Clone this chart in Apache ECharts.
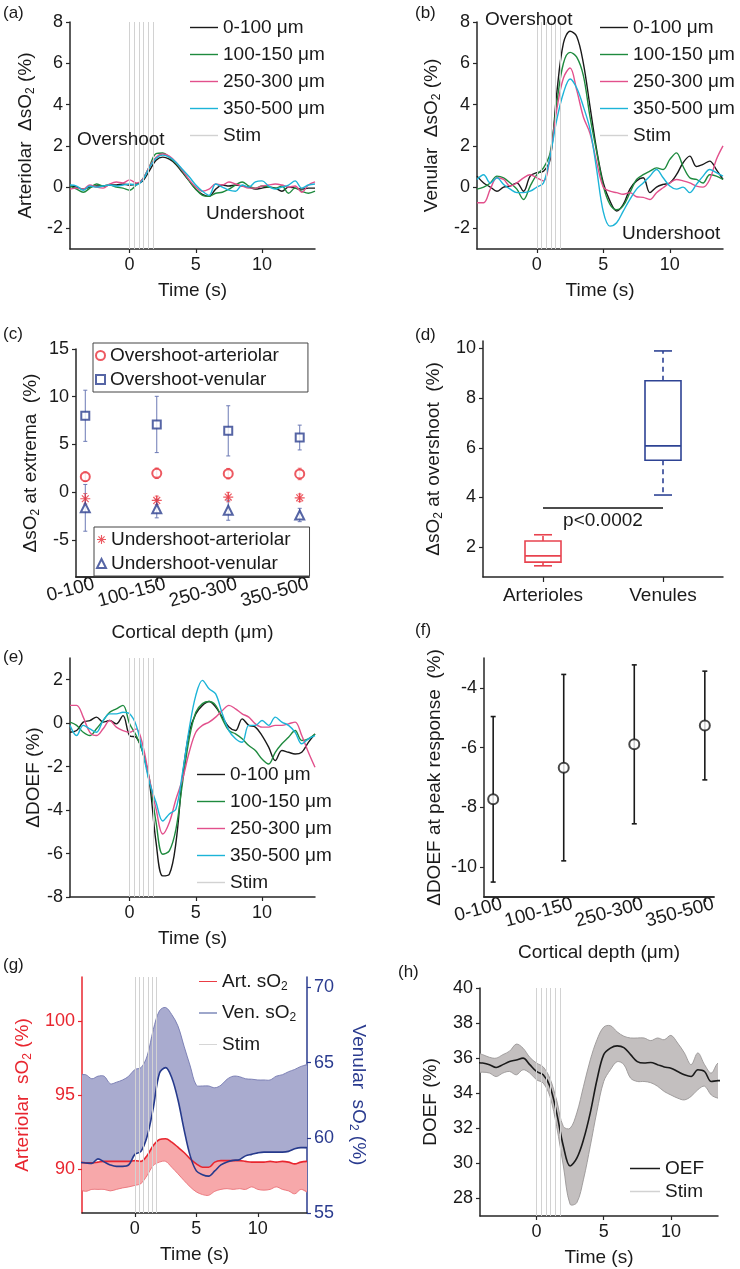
<!DOCTYPE html>
<html><head><meta charset="utf-8">
<script src="https://cdn.jsdelivr.net/npm/echarts@6/dist/echarts.min.js"></script>
<style>html,body{margin:0;padding:0;background:#fff}#c{width:740px;height:1269px}</style>
</head><body><div id="c"></div>
<script>
// ---------- DATA ----------
const time = [-4.5,-4,-3.5,-3,-2.5,-2,-1.5,-1,-0.5,0,0.5,1,1.5,2,2.5,3,3.5,4,4.5,5,5.5,6,6.5,7,7.5,8,8.5,9,9.5,10,10.5,11,11.5,12,12.5,13,13.5,14];
const stimTimes = [0, 0.35, 0.7, 1.05, 1.4, 1.75];
const depthLabels = ['0-100 μm','100-150 μm','250-300 μm','350-500 μm'];
const depthCats = ['0-100','100-150','250-300','350-500'];
const timeTicks = [0, 5, 10];

// (a) arteriolar ΔsO2
const art0_100   = [0.05,0.0,-0.1,0.0,0.05,0.05,0.1,0.1,0.15,0.1, 0.15,0.3,0.8,1.3,1.45,1.35,1.1,0.7,0.3,-0.1, -0.35,-0.45,-0.1,0.1,0.05,0.1,0.05,0.0,-0.1,-0.05, 0.0,-0.05,-0.2,0.0,-0.05,-0.1,-0.05,-0.05];
const art100_150 = [0.05,-0.1,-0.25,-0.05,0.15,0.05,0.1,0.0,-0.05,-0.15, 0.1,0.4,1.0,1.62,1.65,1.45,1.15,0.75,0.3,-0.1, -0.4,-0.45,-0.3,-0.25,-0.1,0.1,0.25,0.05,-0.05,0.05, 0.0,-0.05,0.05,-0.3,-0.05,-0.2,-0.3,-0.2];
const art250_300 = [-0.1,-0.05,-0.1,0.1,0.0,-0.05,0.15,0.25,0.2,0.35, 0.2,0.4,1.0,1.45,1.6,1.5,1.2,0.8,0.35,0.0, -0.2,-0.1,0.15,0.1,0.25,0.15,0.05,-0.05,-0.05,0.05, 0.1,0.15,0.1,0.0,0.05,-0.25,0.1,0.25];
const art350_500 = [0.1,0.05,-0.15,0.05,0.0,0.05,0.1,0.05,0.1,0.15, 0.1,0.35,0.95,1.4,1.55,1.45,1.2,0.85,0.5,0.1, -0.2,-0.4,0.15,0.0,-0.15,-0.2,0.1,0.0,0.25,0.3, 0.05,-0.1,0.0,0.1,0.3,-0.05,0.1,0.15];
const artTicks = [-2, 0, 2, 4, 6, 8];

// (b) venular ΔsO2
const ven0_100   = [0.53,0.2,0.0,-0.2,0.0,0.05,0.2,-0.2,0.53,0.7, 0.77,1.34,4.56,6.98,7.55,7.3,6.0,3.9,1.8,0.2, -0.68,-1.16,-0.84,-0.1,0.3,0.45,-0.27,0.0,0.13,0.2, 0.6,1.18,1.5,1.0,1.1,1.26,0.85,0.37];
const ven100_150 = [-0.1,0.0,0.2,0.53,0.45,0.2,-0.1,-0.6,0.05,0.6, 0.93,1.66,4.08,6.0,6.53,6.3,5.4,3.4,1.7,0.05, -0.84,-1.1,-0.9,-0.27,0.37,0.6,0.77,0.93,0.85,1.34, 1.66,1.0,0.45,0.37,0.2,0.6,0.53,0.37];
const ven250_300 = [-0.76,-0.76,-0.1,0.45,0.37,0.05,0.2,0.45,0.6,0.45, 0.3,1.5,3.76,5.29,5.77,4.7,3.4,2.6,1.2,0.0, -0.2,-0.27,-0.35,-0.27,-0.47,-0.5,-0.6,-0.27,-0.03,0.2, 0.37,0.3,0.2,0.05,0.0,0.37,1.34,2.0];
const ven350_500 = [0.37,0.6,0.2,0.45,0.13,-0.1,-0.27,-0.27,-0.2,0.0, 0.2,1.5,3.27,4.56,5.24,4.8,3.9,2.8,0.85,-1.2, -1.89,-1.73,-1.16,-0.6,-0.1,0.2,0.53,0.85,0.45,0.05, -0.1,0.0,-0.27,0.13,0.53,0.85,0.7,0.53];

// (c) extrema
const overArt = [1.62, 1.97, 1.93, 1.9];      const overArtErr = [0.5, 0.55, 0.55, 0.6];
const overVen = [8.0, 7.09, 6.42, 5.72];      const overVenErr = [2.68, 2.95, 2.63, 1.3];
const underArt = [-0.7, -0.87, -0.52, -0.6];  const underArtErr = [0.55, 0.45, 0.5, 0.4];
const underVen = [-1.65, -1.75, -1.9, -2.4];  const underVenErr = [2.45, 0.95, 1.05, 0.7];
const extremaTicks = [-5, 0, 5, 10, 15];

// (d) box plot [min, Q1, median, Q3, max]
const boxCats = ['Arterioles', 'Venules'];
const boxArterioles = [1.25, 1.4, 1.65, 2.25, 2.5];
const boxVenules = [4.1, 5.5, 6.08, 8.7, 9.9];
const sigLevel = 3.6;
const sigText = 'p<0.0002';
const boxTicks = [2, 4, 6, 8, 10];

// (e) ΔDOEF
const doef0_100   = [-0.42,-0.34,0.05,0.12,0.28,0.05,0.12,-0.03,0.35,-0.57, -0.65,-1.34,-2.72,-5.5,-7.03,-6.95,-5.5,-2.42,-0.42,0.43, 0.82,1.0,0.74,0.28,-0.18,-0.34,0.2,-0.1,-0.18,-0.57, -1.1,-1.72,-1.26,-1.34,-1.42,-1.34,-0.88,-0.5];
const doef100_150 = [0.05,-0.1,-0.42,-0.57,-0.26,0.12,0.5,0.66,0.82,-0.03, -0.57,-1.34,-2.57,-4.57,-6.03,-5.88,-4.88,-2.72,-0.72,0.5, 0.9,1.0,0.82,0.2,-0.34,-0.49,-0.72,-1.03,-1.26,-1.65, -1.88,-1.34,-0.95,-0.65,-0.34,-0.8,-0.72,-0.5];
const doef250_300 = [0.82,0.82,0.28,-0.42,-0.57,-0.26,0.12,-0.18,-0.34,-0.42, -0.26,-1.03,-2.57,-3.95,-5.1,-4.57,-3.5,-2.57,-1.34,-0.42, -0.1,0.05,0.28,0.58,0.82,0.66,0.43,0.28,-0.03,-0.18, -0.18,-0.1,-0.1,-0.03,0.05,-0.57,-1.34,-2.03];
const doef350_500 = [-0.1,-0.57,-0.1,-0.26,-0.42,0.12,0.43,0.43,0.5,0.43, -0.1,-1.34,-2.72,-3.65,-4.5,-4.18,-3.95,-2.26,-0.26,1.28, 1.97,1.58,1.35,0.43,-0.34,-0.72,-0.88,-0.1,-0.1,0.12, -0.1,0.28,0.05,-0.1,-0.42,-0.95,-0.72,-0.57];
const doefTicks = [-8, -6, -4, -2, 0, 2];

// (f) ΔDOEF at peak
const peakMean = [-7.73, -6.67, -5.89, -5.26];
const peakErr = [2.77, 3.12, 2.66, 1.82];
const peakTicks = [-10, -8, -6, -4];

// (g) absolute sO2
const artSO2Mean = [90.45,90.4,90.4,90.45,90.5,90.5,90.5,90.5,90.5,90.55, 90.5,90.9,91.57,91.98,92.03,91.8,91.46,91.1,90.67,90.33, 90.1,90.1,90.45,90.55,90.55,90.55,90.55,90.5,90.45,90.45, 90.45,90.5,90.45,90.5,90.45,90.33,90.45,90.5];
const artSO2Low  = [88.6,88.47,88.6,88.6,88.6,88.5,88.6,88.7,88.77,88.87, 89.0,89.55,90.22,90.45,90.5,90.1,89.66,89.2,88.77,88.43, 88.25,88.2,88.47,88.6,88.65,88.6,88.65,88.6,88.77,88.6, 88.55,88.6,88.77,88.6,88.5,88.3,88.6,88.43];
const venSO2Mean = [58.37,58.33,58.3,58.6,58.4,58.2,58.1,58.1,58.2,58.9, 59.1,60.1,62.0,64.3,64.67,64.0,62.55,60.55,58.8,57.8, 57.55,57.45,57.8,58.2,58.4,58.5,58.55,58.8,58.9,59.0, 59.05,59.05,59.05,59.05,59.1,59.27,59.35,59.35];
const venSO2Up   = [64.17,64.2,63.93,64.1,64.1,63.6,63.7,63.85,64.1,64.55, 64.67,65.45,67.2,68.45,68.67,68.2,67.45,66.1,64.78,63.5, 63.45,63.45,63.33,63.5,63.9,64.1,64.07,63.93,63.9,63.85, 63.85,63.85,64.1,64.2,64.4,64.55,64.75,64.85];
const artAxisTicks = [90, 95, 100];
const venAxisTicks = [55, 60, 65, 70];

// (h) DOEF
const oefMean = [35.75,35.72,35.63,35.47,35.63,35.81,35.9,36.0,35.63,35.24, 35.05,34.4,32.88,30.98,29.85,30.3,31.36,32.88,34.77,36.2, 36.57,36.7,36.6,36.2,35.8,35.72,35.75,35.63,35.5,35.43, 35.24,35.05,34.95,35.34,35.24,34.67,34.72,34.7];
const oefUp   = [36.3,36.2,36.05,36.0,36.2,36.4,36.8,36.57,36.05,35.72, 35.5,34.85,33.6,32.1,32.0,32.88,34.4,35.9,37.05,37.77, 37.85,37.5,37.25,37.15,37.15,37.15,37.0,37.15,37.05,37.3, 36.86,36.3,35.63,36.3,35.63,35.15,35.72,35.7];
const oefLow  = [35.15,35.2,35.15,34.95,35.15,35.24,35.05,35.34,35.15,34.77, 34.58,33.82,32.1,29.85,27.67,27.76,29.1,30.98,32.98,34.67, 35.34,35.8,35.63,34.86,34.67,34.67,34.6,34.4,34.1,33.9, 33.72,33.62,33.82,34.2,34.4,33.9,33.72,33.7];
const oefTicks = [28, 30, 32, 34, 36, 38, 40];

// ---------- STYLE ----------
const FONT = 'Liberation Sans, Arial, sans-serif';
const TXT = '#1a1a1a';
const AX = '#262626';
const depthColors = ['#1a1a1a', '#1e8a3e', '#e2508c', '#1cb4d8'];
const STIM = '#d2d2d2';
const RED = '#e8303a', BLUE = '#2c3e8f';
const ART_RED = '#e8262f', VEN_BLUE = '#263a8c';
const SMOOTH = 0.35;

function richSub(color) {
  return {
    n: {fontSize: 19, color, lineHeight: 22, fontFamily: FONT},
    s: {fontSize: 12, color, lineHeight: 12, verticalAlign: 'bottom', fontFamily: FONT}
  };
}
function valAxis(gi, min, max, ticks, opts) {
  opts = opts || {};
  const col = opts.color || AX;
  const lab = opts.labelColor || TXT;
  return Object.assign({
    type: 'value', gridIndex: gi, min, max, scale: true,
    axisLine: {show: true, onZero: false, lineStyle: {color: col, width: 1.5}},
    axisTick: {show: true, inside: false, length: 4, customValues: ticks, lineStyle: {color: col, width: 1.2}},
    axisLabel: {customValues: ticks, fontSize: 18, color: lab, margin: 7, fontFamily: FONT, showMinLabel: true, showMaxLabel: true},
    splitLine: {show: false},
    nameTextStyle: {fontSize: 19, color: lab, fontFamily: FONT}
  }, opts.extra || {});
}
function timeX(gi, min, max) {
  return valAxis(gi, min, max, timeTicks, {extra: {name: 'Time (s)', nameLocation: 'middle', nameGap: 32}});
}
// depth axis: labels split over two overlaid axes so that rotated neighbours are never auto-hidden
function depthX(gi, which) {
  const vals = which === 0 ? [1, 3] : [2, 4];
  const extra = which === 0 ? {name: 'Cortical depth (μm)', nameLocation: 'middle', nameGap: 46} : {};
  const a = valAxis(gi, 0.87, 4.13, vals, {extra});
  a.axisLabel.rotate = 15;
  a.axisLabel.fontSize = 19;
  a.axisLabel.margin = 9;
  a.axisLabel.padding = [0, -9, 0, 0];
  a.axisLabel.hideOverlap = false;
  a.axisLabel.formatter = v => depthCats[Math.round(v) - 1];
  a.axisTick.length = 5;
  a.position = 'bottom';
  a.offset = 0;
  return a;
}
function yName(name, gap, rich, color, rotate) {
  const o = {name, nameLocation: 'middle', nameGap: gap, nameRotate: rotate == null ? 90 : rotate};
  o.nameTextStyle = rich ? {rich: richSub(color || TXT)} : {fontSize: 19, color: color || TXT, fontFamily: FONT};
  return o;
}
const pts = arr => time.map((t, i) => [t, arr[i]]);
function lineS(name, xi, yi, arr, color, width) {
  return {type: 'line', name, xAxisIndex: xi, yAxisIndex: yi, data: pts(arr), symbol: 'none', showSymbol: false,
    smooth: SMOOTH, lineStyle: {color, width: width || 1.4}, itemStyle: {color}, z: 3};
}
function stimS(xi, yi) {
  return {type: 'line', name: 'Stim', xAxisIndex: xi, yAxisIndex: yi, data: [], symbol: 'none',
    lineStyle: {color: STIM, width: 1.2}, itemStyle: {color: STIM}, z: 1,
    markLine: {silent: true, symbol: ['none', 'none'], label: {show: false},
      lineStyle: {color: STIM, width: 1, type: 'solid'}, emphasis: {disabled: true},
      data: stimTimes.map(t => ({xAxis: t}))}};
}
// shaded band between two data arrays (drawn through the axes' coord())
function bandS(xi, yi, low, up, fill, edgeLow, edgeUp) {
  return {type: 'custom', xAxisIndex: xi, yAxisIndex: yi, z: 2, silent: true, clip: true,
    data: time.map((t, i) => [t, low[i], up[i]]), encode: {x: 0, y: [1, 2]},
    renderItem: function (params, api) {
      if (params.dataIndex !== 0) return null;
      const top = time.map((t, i) => api.coord([t, up[i]]));
      const bot = time.map((t, i) => api.coord([t, low[i]]));
      const kids = [{type: 'polygon', shape: {points: top.concat(bot.slice().reverse()), smooth: SMOOTH},
        style: {fill, stroke: null}}];
      if (edgeUp) kids.push({type: 'polyline', shape: {points: top, smooth: SMOOTH}, style: {stroke: edgeUp, lineWidth: 0.9, fill: null}});
      if (edgeLow) kids.push({type: 'polyline', shape: {points: bot, smooth: SMOOTH}, style: {stroke: edgeLow, lineWidth: 0.9, fill: null}});
      return {type: 'group', children: kids};
    }};
}
function errRender(cap, color, width) {
  return function (params, api) {
    const x = api.value(0), m = api.value(1), e = api.value(2);
    const t = api.coord([x, m + e]), b = api.coord([x, m - e]);
    const st = {stroke: color, lineWidth: width};
    return {type: 'group', children: [
      {type: 'line', shape: {x1: t[0], y1: t[1], x2: b[0], y2: b[1]}, style: st},
      {type: 'line', shape: {x1: t[0] - cap, y1: t[1], x2: t[0] + cap, y2: t[1]}, style: st},
      {type: 'line', shape: {x1: b[0] - cap, y1: b[1], x2: b[0] + cap, y2: b[1]}, style: st}
    ]};
  };
}
function errS(xi, yi, mean, err, cap, color, width) {
  return {type: 'custom', xAxisIndex: xi, yAxisIndex: yi, z: 2, silent: true,
    data: mean.map((m, i) => [i + 1, m, err[i]]), encode: {x: 0, y: 1},
    renderItem: errRender(cap, color, width)};
}
function scatS(name, xi, yi, mean, symbol, size, color, bw) {
  return {type: 'scatter', name, xAxisIndex: xi, yAxisIndex: yi, z: 4,
    data: mean.map((m, i) => [i + 1, m]), symbol, symbolSize: size, symbolKeepAspect: true,
    itemStyle: {color, borderColor: color, borderWidth: bw == null ? 1.2 : bw}};
}
const ASTERISK = 'path://M8.8 0H11.2V20H8.8Z M0 8.8H20V11.2H0Z M2.3 4.0L4.0 2.3L17.7 16.0L16.0 17.7Z M16.0 2.3L17.7 4.0L4.0 17.7L2.3 16.0Z';
const LINEICON = 'path://M0 0H40V2H0Z';
const boxStats = [boxArterioles, boxVenules];
const boxColors = ['#e8434f', '#2e4394'];

// ---------- OPTION ----------
const grids = [
  {left: 70, top: 22, width: 245, height: 227},
  {left: 477, top: 22, width: 246, height: 227},
  {left: 76, top: 349, width: 233, height: 228},
  {left: 483, top: 341, width: 240, height: 236},
  {left: 70, top: 658, width: 245, height: 239},
  {left: 484, top: 658, width: 230, height: 239},
  {left: 82, top: 977, width: 225, height: 236},
  {left: 480, top: 988, width: 238, height: 228}
].map(g => Object.assign({outerBoundsMode: 'none', containLabel: false}, g));

const xAxes = [
  timeX(0, -4.5, 14),
  timeX(1, -4.5, 14),
  depthX(2, 0),
  {type: 'category', gridIndex: 3, data: boxCats, boundaryGap: true,
    axisLine: {show: true, onZero: false, lineStyle: {color: AX, width: 1.5}},
    axisTick: {show: true, alignWithLabel: true, length: 5, lineStyle: {color: AX, width: 1.2}},
    axisLabel: {fontSize: 19, color: TXT, margin: 9, fontFamily: FONT}, splitLine: {show: false}},
  timeX(4, -4.5, 14),
  depthX(5, 0),
  timeX(6, -4.3, 14),
  timeX(7, -4.2, 13.5),
  depthX(2, 1),
  depthX(5, 1)
];
const yAxes = [
  valAxis(0, -3, 8, artTicks, {extra: yName('{n|Arteriolar  ΔsO}{s|2}{n| (%)}', 33, true)}),
  valAxis(1, -3, 8, artTicks, {extra: yName('{n|Venular  ΔsO}{s|2}{n| (%)}', 34, true)}),
  valAxis(2, -8.9, 15, extremaTicks, {extra: yName('{n|ΔsO}{s|2}{n| at extrema  (%)}', 34, true)}),
  valAxis(3, 0.8, 10.3, boxTicks, {extra: yName('{n|ΔsO}{s|2}{n| at overshoot  (%)}', 38, true)}),
  valAxis(4, -8, 3, doefTicks, {extra: yName('ΔDOEF (%)', 27)}),
  valAxis(5, -11, -3, peakTicks, {extra: yName('ΔDOEF at peak response  (%)', 40)}),
  valAxis(6, 87, 103, artAxisTicks, {color: ART_RED, labelColor: ART_RED,
    extra: yName('{n|Arteriolar  sO}{s|2}{n| (%)}', 48, true, ART_RED)}),
  valAxis(6, 55, 70.7, venAxisTicks, {color: '#2a3b8f', labelColor: '#2a3b8f',
    extra: Object.assign({position: 'right'}, yName('{n|Venular  sO}{s|2}{n| (%)}', 40, true, '#2a3b8f', -90))}),
  valAxis(7, 27, 40, oefTicks, {extra: yName('DOEF (%)', 40)})
];

const series = [];
// (a)
series.push(stimS(0, 0));
[art0_100, art100_150, art250_300, art350_500].forEach((a, k) => series.push(lineS(depthLabels[k], 0, 0, a, depthColors[k])));
// (b)
series.push(stimS(1, 1));
[ven0_100, ven100_150, ven250_300, ven350_500].forEach((a, k) => series.push(lineS(depthLabels[k], 1, 1, a, depthColors[k])));
// (c)
series.push(errS(2, 2, overVen, overVenErr, 2, '#6c7ab5', 1));
series.push(errS(2, 2, overArt, overArtErr, 2, '#ee6a72', 1));
series.push(errS(2, 2, underArt, underArtErr, 2, '#ee6a72', 1));
series.push(errS(2, 2, underVen, underVenErr, 2, '#6c7ab5', 1));
series.push(scatS('Overshoot-arteriolar', 2, 2, overArt, 'emptyCircle', 9, RED));
series.push(scatS('Overshoot-venular', 2, 2, overVen, 'emptyRect', 8, BLUE));
series.push(scatS('Undershoot-arteriolar', 2, 2, underArt, ASTERISK, 10, RED, 0));
series.push(scatS('Undershoot-venular', 2, 2, underVen, 'emptyTriangle', 9, BLUE));
// (d)
series.push({type: 'custom', xAxisIndex: 3, yAxisIndex: 3, z: 3, silent: true,
  data: boxCats.map((c, i) => [i].concat(boxStats[i])), encode: {x: 0, y: [1, 2, 3, 4, 5]},
  renderItem: function (params, api) {
    const i = api.value(0);
    const v = [1, 2, 3, 4, 5].map(k => api.value(k));
    const cx = api.coord([i, v[2]])[0];
    const y = val => api.coord([i, val])[1];
    const col = boxColors[params.dataIndex];
    const hw = 18, cw = 9;
    const st = {stroke: col, lineWidth: 1.6, fill: null};
    const ds = {stroke: col, lineWidth: 1.6, lineDash: [5, 4]};
    return {type: 'group', children: [
      {type: 'line', shape: {x1: cx, y1: y(v[3]), x2: cx, y2: y(v[4])}, style: ds},
      {type: 'line', shape: {x1: cx, y1: y(v[1]), x2: cx, y2: y(v[0])}, style: ds},
      {type: 'line', shape: {x1: cx - cw, y1: y(v[4]), x2: cx + cw, y2: y(v[4])}, style: st},
      {type: 'line', shape: {x1: cx - cw, y1: y(v[0]), x2: cx + cw, y2: y(v[0])}, style: st},
      {type: 'rect', shape: {x: cx - hw, y: y(v[3]), width: 2 * hw, height: y(v[1]) - y(v[3])}, style: {stroke: col, lineWidth: 1.6, fill: '#fff'}},
      {type: 'line', shape: {x1: cx - hw, y1: y(v[2]), x2: cx + hw, y2: y(v[2])}, style: st}
    ]};
  }});
series.push({type: 'line', xAxisIndex: 3, yAxisIndex: 3, data: [], symbol: 'none',
  markLine: {silent: true, symbol: ['none', 'none'],
    lineStyle: {color: '#111', width: 1.5, type: 'solid'},
    label: {show: true, position: 'insideMiddleBottom', formatter: sigText, fontSize: 19, color: TXT, fontFamily: FONT, distance: 4},
    data: [[{coord: [boxCats[0], sigLevel]}, {coord: [boxCats[1], sigLevel]}]]}});
// (e)
series.push(stimS(4, 4));
[doef0_100, doef100_150, doef250_300, doef350_500].forEach((a, k) => series.push(lineS(depthLabels[k], 4, 4, a, depthColors[k])));
// (f)
series.push(errS(5, 5, peakMean, peakErr, 2.5, '#1a1a1a', 1.6));
series.push(scatS('peak', 5, 5, peakMean, 'emptyCircle', 10, '#1a1a1a'));
// (g)
series.push(stimS(6, 6));
series.push(bandS(6, 7, venSO2Mean, venSO2Up, '#a9abcf', null, '#7478b0'));
series.push(bandS(6, 6, artSO2Low, artSO2Mean, '#f7a8aa', '#ea7278', null));
series.push(lineS('Art. sO2', 6, 6, artSO2Mean, ART_RED, 1.6));
series.push(lineS('Ven. sO2', 6, 7, venSO2Mean, VEN_BLUE, 1.6));
// (h)
series.push(stimS(7, 8));
series.push(bandS(7, 8, oefLow, oefUp, '#c3bfbf', '#9a9696', '#9a9696'));
series.push(lineS('OEF', 7, 8, oefMean, '#1a1a1a', 1.6));

const legItem = (name, color) => ({name, itemStyle: {color}});
const depthLegend = depthLabels.map((n, k) => legItem(n, depthColors[k])).concat([legItem('Stim', STIM)]);
const legBase = {orient: 'vertical', selectedMode: false, itemWidth: 28, itemHeight: 2, itemGap: 8, padding: 0,
  icon: LINEICON, textStyle: {fontSize: 19, lineHeight: 19, color: TXT, fontFamily: FONT}};
const subFmt = n => /sO2$/.test(n) ? '{t|' + n.slice(0, -1) + '}{s|2}' : '{t|' + n + '}';
const legends = [
  Object.assign({}, legBase, {left: 190, top: 18, data: depthLegend}),
  Object.assign({}, legBase, {left: 600, top: 18, data: depthLegend}),
  Object.assign({}, legBase, {left: 197, top: 765, data: depthLegend}),
  {orient: 'vertical', selectedMode: false, left: 93, top: 343, itemWidth: 9, itemHeight: 9, itemGap: 5,
    padding: [3, 29, 3, 2], borderColor: '#444', borderWidth: 1,
    textStyle: {fontSize: 19, lineHeight: 19, color: TXT, fontFamily: FONT},
    data: [{name: 'Overshoot-arteriolar', icon: 'emptyCircle'}, {name: 'Overshoot-venular', icon: 'emptyRect'}]},
  {orient: 'vertical', selectedMode: false, left: 94, top: 527, itemWidth: 9, itemHeight: 9, itemGap: 5,
    padding: [3, 19, 3, 2], borderColor: '#444', borderWidth: 1,
    textStyle: {fontSize: 19, lineHeight: 19, color: TXT, fontFamily: FONT},
    data: [{name: 'Undershoot-arteriolar', icon: ASTERISK}, {name: 'Undershoot-venular', icon: 'emptyTriangle'}]},
  {orient: 'vertical', selectedMode: false, left: 199, top: 972, itemWidth: 18, itemHeight: 2, itemGap: 11, padding: 0,
    icon: LINEICON, formatter: subFmt,
    textStyle: {fontSize: 19, color: TXT, fontFamily: FONT, rich: {t: {fontSize: 19, lineHeight: 22, color: TXT, fontFamily: FONT}, s: {fontSize: 12, lineHeight: 12, verticalAlign: 'bottom', color: TXT, fontFamily: FONT}}},
    data: [legItem('Art. sO2', ART_RED), legItem('Ven. sO2', VEN_BLUE), legItem('Stim', STIM)]},
  Object.assign({}, legBase, {left: 630, top: 1159, itemWidth: 30, itemGap: 4, data: [legItem('OEF', '#1a1a1a'), legItem('Stim', STIM)]})
];

function txt(text, x, y, size, align) {
  return {type: 'text', x, y, silent: true, z: 10,
    style: {text, font: (size || 19) + 'px ' + FONT, fill: TXT, align: align || 'left', verticalAlign: 'middle'}};
}
const graphics = [
  txt('(a)', 3, 13, 17), txt('(b)', 415, 13, 17), txt('(c)', 3, 334, 17), txt('(d)', 415, 335, 17),
  txt('(e)', 3, 657, 17), txt('(f)', 415, 630, 17), txt('(g)', 3, 965, 17), txt('(h)', 398, 972, 17),
  txt('Overshoot', 77, 140), txt('Undershoot', 206, 214),
  txt('Overshoot', 485, 20), txt('Undershoot', 622, 234)
];

const chart = echarts.init(document.getElementById('c'), null, {renderer: 'canvas'});
chart.setOption({
  animation: false,
  backgroundColor: '#fff',
  textStyle: {fontFamily: FONT},
  grid: grids, xAxis: xAxes, yAxis: yAxes, series, legend: legends, graphic: graphics,
  tooltip: {show: false}
});
</script></body></html>
